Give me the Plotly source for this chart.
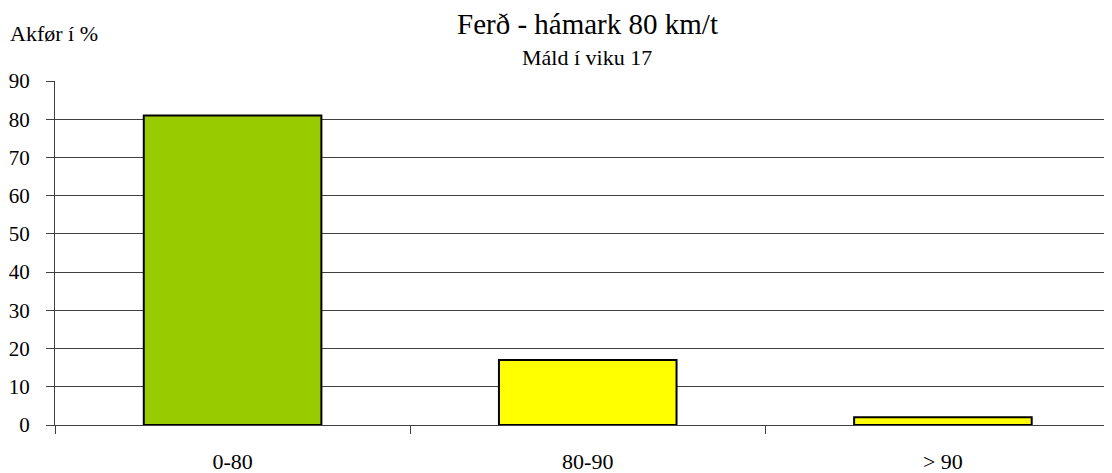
import plotly.graph_objects as go

# Data
categories = ["0-80", "80-90", "> 90"]
values = [81, 17, 2]
bar_colors = ["#99CC00", "#FFFF00", "#FFFF00"]
y_ticks = [0, 10, 20, 30, 40, 50, 60, 70, 80, 90]

FONT = "Liberation Serif"

# page body has an 8px margin, so the figure is placed at (8, 8)
OFF = 8
W, H = 1112 - OFF, 473 - OFF
L, T, B = 55 - OFF, 81 - OFF, 48
PLOT_H = H - T - B

fig = go.Figure()

fig.add_trace(go.Bar(
    x=categories,
    y=values,
    marker=dict(color=bar_colors, line=dict(color="black", width=2)),
    showlegend=False,
    hoverinfo="x+y",
))

# plot area continues a little beyond the right edge in the original
fig.update_xaxes(
    type="category",
    range=[-0.5, -0.5 + (W - L) * 3 / 1065.5],
    showline=True, linecolor="#404040", linewidth=1,
    ticks="outside", tickson="boundaries", ticklen=8, tickcolor="#404040",
    showgrid=False, zeroline=False,
    tickfont=dict(family=FONT, size=22, color="black"),
    ticklabelstandoff=17,
)
fig.update_yaxes(
    range=[0, 90],
    tickvals=y_ticks,
    showline=True, linecolor="#404040", linewidth=1,
    ticks="outside", ticklen=8, tickcolor="#404040",
    showgrid=True, gridcolor="#404040", gridwidth=1,
    zeroline=False,
    tickfont=dict(family=FONT, size=21, color="black"),
    ticklabelstandoff=12,
)

def py(pix):
    # page pixel row -> paper y
    return (H - B - (pix - OFF)) / PLOT_H

fig.add_annotation(
    text="Ferð - hámark 80 km/t", xref="paper", yref="paper",
    x=0.5035, y=py(24), xanchor="center", yanchor="middle",
    showarrow=False, font=dict(family=FONT, size=29, color="black"),
)
fig.add_annotation(
    text="Máld í viku 17", xref="paper", yref="paper",
    x=0.5035, y=py(57), xanchor="center", yanchor="middle",
    showarrow=False, font=dict(family=FONT, size=22, color="black"),
)
fig.add_annotation(
    text="Akfør í %", xref="paper", yref="paper",
    x=(8 - 55) / 1057, y=py(34), xanchor="left", yanchor="middle",
    showarrow=False, font=dict(family=FONT, size=22, color="black"),
)

fig.update_layout(
    width=W, height=H,
    margin=dict(l=L, r=0, t=T, b=B),
    bargap=0.5,
    plot_bgcolor="white",
    paper_bgcolor="white",
)

fig.write_html("out.html")
